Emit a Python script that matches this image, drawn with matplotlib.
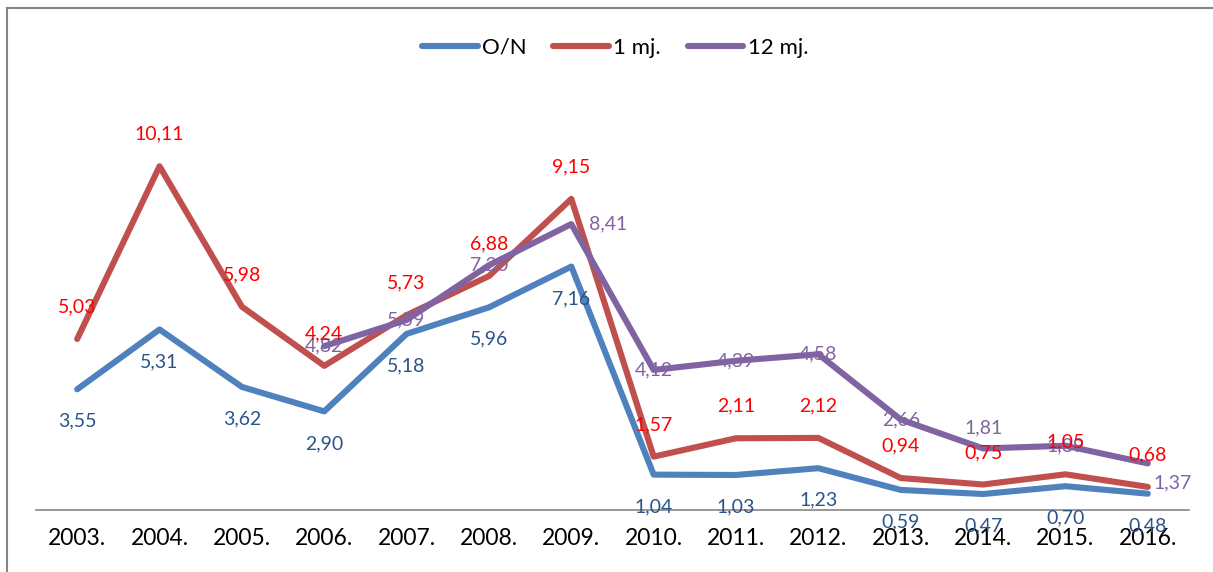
import numpy as np
import matplotlib
matplotlib.use("Agg")
import matplotlib.pyplot as plt
from matplotlib.lines import Line2D

plt.rcParams['font.family'] = ['Lato', 'DejaVu Sans']

# ── data ──────────────────────────────────────────────────────────────────────
years = ["2003.", "2004.", "2005.", "2006.", "2007.", "2008.", "2009.",
         "2010.", "2011.", "2012.", "2013.", "2014.", "2015.", "2016."]
on_vals = [3.55, 5.31, 3.62, 2.90, 5.18, 5.96, 7.16, 1.04, 1.03, 1.23, 0.59, 0.47, 0.70, 0.48]
m1_vals = [5.03, 10.11, 5.98, 4.24, 5.73, 6.88, 9.15, 1.57, 2.11, 2.12, 0.94, 0.75, 1.05, 0.68]
m12_vals = [np.nan, np.nan, np.nan, 4.82, 5.59, 7.20, 8.41, 4.12, 4.39, 4.58, 2.66, 1.81, 1.89, 1.37]
series_names = ["O/N", "1 mj.", "12 mj."]

# ── styles ────────────────────────────────────────────────────────────────────
LINE_COLORS = ["#4F81BD", "#C0504D", "#8064A2"]
LABEL_COLORS = ["#2A548A", "#FF0000", "#8064A2"]

fig = plt.figure(figsize=(12.13, 5.72), dpi=100)
ax = fig.add_axes([36 / 1213, 62 / 572, 1153 / 1213, 408 / 572])

x = np.arange(len(years))
series = [on_vals, m1_vals, m12_vals]
for i, vals in enumerate(series):
    ax.plot(x, vals, color=LINE_COLORS[i], linewidth=4.4,
            solid_capstyle='round', solid_joinstyle='round', zorder=2 + i)


def fmt(v):
    return f"{v:.2f}".replace(".", ",")


# data labels: O/N below, 1 mj. above, 12 mj. centred (a few moved)
for xi, v in zip(x, on_vals):
    ax.annotate(fmt(v), (xi, v), xytext=(0, -32), textcoords='offset pixels',
                ha='center', va='center', fontsize=14, color=LABEL_COLORS[0], zorder=10)
for xi, v in zip(x, m1_vals):
    ax.annotate(fmt(v), (xi, v), xytext=(0, 32), textcoords='offset pixels',
                ha='center', va='center', fontsize=14, color=LABEL_COLORS[1], zorder=10)
for xi, v in zip(x, m12_vals):
    if np.isnan(v):
        continue
    off, ha = (0, 0), 'center'
    if years[xi] == "2009.":
        off, ha = (18, 0), 'left'
    elif years[xi] == "2014.":
        off = (0, 21)
    elif years[xi] == "2016.":
        off, ha = (6, -19), 'left'
    ax.annotate(fmt(v), (xi, v), xytext=off, textcoords='offset pixels',
                ha=ha, va='center', fontsize=14, color=LABEL_COLORS[2], zorder=9)

ax.set_xlim(-0.5, len(years) - 0.5)
ax.set_ylim(0, 12)
ax.set_xticks(x)
ax.set_xticklabels(years, fontsize=16.5)
ax.tick_params(axis='x', length=0, pad=13)
ax.set_yticks([])
for s in ["top", "right", "left"]:
    ax.spines[s].set_visible(False)
ax.spines["bottom"].set_color("#868686")
ax.spines["bottom"].set_linewidth(1.2)

handles = [Line2D([], [], color=c, linewidth=4.4, solid_capstyle='round') for c in LINE_COLORS]
fig.legend(handles, series_names, loc='center', bbox_to_anchor=(0.507, 1 - 48 / 572),
           ncol=3, frameon=False, fontsize=16, handlelength=2.5,
           handletextpad=0.2, columnspacing=1.2)

# chart frame (gray border top and left)
fig.add_artist(Line2D([7 / 1213, 1.0], [1 - 8 / 572, 1 - 8 / 572],
                      transform=fig.transFigure, color="#868686", linewidth=1.5))
fig.add_artist(Line2D([7 / 1213, 7 / 1213], [0, 1 - 8 / 572],
                      transform=fig.transFigure, color="#868686", linewidth=1.5))

fig.savefig("out.png", dpi=100)
